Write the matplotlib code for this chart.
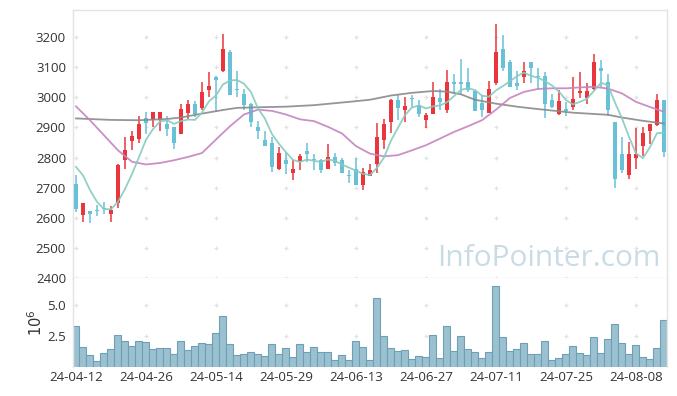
import numpy as np
import pandas as pd
import matplotlib
matplotlib.use("Agg")
import matplotlib.pyplot as plt

plt.rcParams['font.family'] = ['Open Sans', 'DejaVu Sans']

# trading days (KRX), 2024-04-12 .. 2024-08-14
holidays = ['2024-05-01', '2024-05-06', '2024-05-15', '2024-06-06']
dates = pd.bdate_range('2024-04-12', '2024-08-14')
dates = dates[~dates.isin(pd.to_datetime(holidays))]

opens = [2711, 2609, 2622, 2624, 2632, 2614, 2649, 2791, 2855, 2860,
         2931, 2926, 2927, 2911, 2901, 2879, 2949, 2977, 2966, 3024,
         3066, 3087, 3150, 3028, 3010, 2977, 2901, 2857, 2848, 2762,
         2791, 2749, 2789, 2821, 2793, 2793, 2762, 2801, 2791, 2742,
         2761, 2709, 2739, 2778, 2859, 2918, 2990, 2958, 2998, 2974,
         2924, 2945, 2997, 2959, 3050, 3050, 3050, 3021, 2981, 2948,
         3048, 3160, 3117, 3048, 3066, 3117, 3069, 3070, 2990, 2946,
         2961, 2968, 3015, 2998, 3028, 3096, 3050, 2917, 2811, 2742,
         2799, 2839, 2887, 2907, 2990]
highs = [2743, 2650, 2623, 2641, 2653, 2638, 2780, 2869, 2888, 2939,
         2950, 2951, 2951, 2939, 2902, 2979, 2991, 2987, 3050, 3085,
         3070, 3212, 3156, 3087, 3027, 2981, 2921, 2887, 2869, 2835,
         2818, 2791, 2813, 2849, 2813, 2794, 2846, 2815, 2800, 2760,
         2800, 2765, 2780, 2916, 2929, 2994, 3007, 3000, 3007, 2990,
         2949, 3051, 3029, 3090, 3077, 3126, 3099, 3024, 3007, 3055,
         3242, 3206, 3125, 3088, 3118, 3118, 3096, 3084, 3010, 3024,
         2985, 3066, 3084, 3049, 3145, 3125, 3079, 2918, 2869, 2850,
         2898, 2902, 2911, 3010, 2991]
lows = [2619, 2585, 2581, 2605, 2611, 2585, 2634, 2763, 2824, 2847,
        2877, 2900, 2888, 2871, 2830, 2877, 2927, 2935, 2957, 3000,
        2952, 3084, 3007, 3000, 2959, 2900, 2860, 2838, 2752, 2758,
        2747, 2724, 2760, 2786, 2760, 2750, 2761, 2771, 2748, 2714,
        2708, 2691, 2738, 2749, 2830, 2880, 2926, 2918, 2968, 2935,
        2898, 2944, 2957, 2949, 3012, 3012, 3018, 2954, 2935, 2947,
        3041, 3088, 3034, 3026, 3046, 3048, 3024, 2930, 2966, 2940,
        2937, 2959, 2999, 2979, 3024, 3035, 2937, 2699, 2749, 2730,
        2763, 2806, 2846, 2904, 2802]
closes = [2629, 2650, 2614, 2622, 2630, 2625, 2775, 2824, 2872, 2911,
          2915, 2950, 2950, 2895, 2849, 2961, 2977, 2943, 3017, 3037,
          3057, 3160, 3008, 3026, 2975, 2918, 2888, 2839, 2769, 2814,
          2778, 2761, 2804, 2811, 2791, 2760, 2802, 2782, 2749, 2740,
          2709, 2751, 2760, 2869, 2911, 2990, 2965, 2970, 2996, 2944,
          2940, 3000, 2985, 3050, 3045, 3045, 3026, 2955, 2957, 3027,
          3150, 3099, 3035, 3039, 3088, 3096, 3067, 2978, 2968, 2987,
          2954, 2996, 3020, 3020, 3117, 3088, 2959, 2729, 2758, 2811,
          2813, 2880, 2910, 2990, 2819]
# volume, millions of shares
volumes = [3.28, 1.59, 0.94, 0.46, 1.10, 1.42, 2.55, 2.07, 1.67, 2.07,
           1.99, 1.42, 1.50, 1.50, 1.02, 2.07, 1.34, 1.67, 1.91, 1.83,
           2.71, 4.08, 1.83, 0.94, 1.02, 1.18, 1.02, 0.86, 1.83, 1.02,
           1.50, 0.78, 1.83, 1.18, 1.59, 1.18, 1.18, 0.54, 0.94, 0.54,
           2.07, 1.59, 0.54, 5.54, 2.47, 1.50, 1.26, 1.34, 0.62, 0.86,
           0.78, 2.55, 0.70, 3.28, 1.26, 2.47, 1.42, 1.18, 0.70, 1.18,
           6.53, 2.39, 1.26, 1.42, 1.91, 1.02, 1.02, 2.07, 0.54, 0.70,
           1.02, 1.67, 1.10, 0.94, 2.39, 1.10, 2.23, 3.44, 1.91, 1.02,
           1.75, 0.78, 0.62, 1.50, 3.76]

# MA5 for the first four days needs earlier closes
ma5_head = [2769, 2741, 2692, 2653]
# MA20 / MA60 (day index, value)
ma20_idx = [0, 2, 4, 6, 8, 10, 12, 14, 16, 18, 20, 22, 24, 26, 28, 30, 32, 34,
            36, 38, 40, 42, 44, 46, 48, 50, 52, 54, 56, 58, 60, 62, 64, 66,
            68, 70, 72, 74, 76, 78, 80, 82, 84]
ma20_val = [2970, 2924, 2874, 2824, 2786, 2777, 2782, 2791, 2802, 2815, 2860,
            2904, 2943, 2959, 2955, 2943, 2927, 2921, 2902, 2880, 2838, 2813,
            2804, 2808, 2824, 2841, 2863, 2885, 2904, 2924, 2959, 2998, 3018,
            3028, 3030, 3030, 3033, 3035, 3029, 3013, 2985, 2968, 2952]
ma60_idx = [0, 5, 9, 13, 15, 18, 21, 23, 26, 30, 34, 39, 42, 45, 48, 51, 53,
            55, 57, 60, 63, 66, 71, 76, 78, 81, 84]
ma60_val = [2930, 2925, 2924, 2928, 2933, 2946, 2958, 2965, 2967, 2969, 2974,
            2985, 2992, 3006, 3015, 3021, 3019, 3010, 2992, 2979, 2969, 2961,
            2949, 2942, 2933, 2922, 2913]

tick_idx = list(range(0, len(dates), 10))
tick_labels = [dates[i].strftime('%y-%m-%d') for i in tick_idx]
price_ticks = [2400, 2500, 2600, 2700, 2800, 2900, 3000, 3100, 3200]
vol_ticks = [2.5, 5.0]

UP = '#e9353b'
DOWN = '#69c1d7'
GRID = '#e2e2e2'
SPINE = '#e3e3e3'
TXT = '#333333'

x = np.arange(len(dates))
o = np.array(opens); h = np.array(highs); l = np.array(lows); c = np.array(closes)
up = c >= o
col = np.where(up, UP, DOWN)

ma5 = pd.Series(c).rolling(5).mean().to_numpy()
ma5[:4] = ma5_head

fig = plt.figure(figsize=(6.77, 3.96), dpi=100)
ax = fig.add_axes([0.1078, 0.298, 0.8774, 0.6767])
axv = fig.add_axes([0.1078, 0.0732, 0.8774, 0.2248], sharex=ax)

# grid crosses
gx, gy = np.meshgrid(tick_idx, price_ticks)
ax.scatter(gx.ravel(), gy.ravel(), marker='+', s=12, color=GRID, linewidths=0.9, zorder=1)
gx, gy = np.meshgrid(tick_idx, vol_ticks)
axv.scatter(gx.ravel(), gy.ravel(), marker='+', s=12, color=GRID, linewidths=0.9, zorder=1)

fig.text(0.975, 0.328, 'InfoPointer.com', ha='right', va='baseline',
         fontsize=21.5, color='#c9dce6', family=['Open Sans', 'DejaVu Sans'], zorder=0)

# candles
ax.vlines(x, l, h, colors=col, linewidth=1.1, zorder=2)
body = np.maximum(np.abs(c - o), 3)
ax.bar(x, body, bottom=np.minimum(o, c), width=0.58, color=col, linewidth=0, zorder=3)

ax.plot(ma60_idx, ma60_val, color='#8a8a8a', lw=1.3, alpha=0.9, zorder=4)
ax.plot(ma20_idx, ma20_val, color='#c584c0', lw=1.3, alpha=0.9, zorder=4)
ax.plot(x, ma5, color='#86cbbf', lw=1.3, alpha=0.9, zorder=4)

ax.set_ylim(2400, 3290)
ax.set_xlim(-0.43, len(dates) - 0.57)
ax.set_yticks(price_ticks)
ax.tick_params(axis='y', length=0, pad=5, labelsize=9.5, labelcolor=TXT)
ax.tick_params(axis='x', length=0, labelbottom=False)

# volume
axv.bar(x, volumes, width=1.0, color='#9bc1d1', edgecolor='#6f9fb4', linewidth=0.8, zorder=2)
axv.set_ylim(0, 7.17)
axv.set_yticks(vol_ticks)
axv.set_yticklabels(['2.5', '5.0'])
axv.set_xticks(tick_idx)
axv.set_xticklabels(tick_labels)
axv.tick_params(axis='both', length=0, labelsize=9.5, labelcolor=TXT)
axv.tick_params(axis='y', pad=5)
axv.tick_params(axis='x', pad=3)
axv.set_ylabel(r'$10^6$', color=TXT, fontsize=10.5, labelpad=1)

for a in (ax, axv):
    for s in a.spines.values():
        s.set_color(SPINE)
        s.set_linewidth(1)
axv.spines['bottom'].set_visible(False)
axv.spines['top'].set_visible(False)

fig.savefig('out.png', dpi=100)
